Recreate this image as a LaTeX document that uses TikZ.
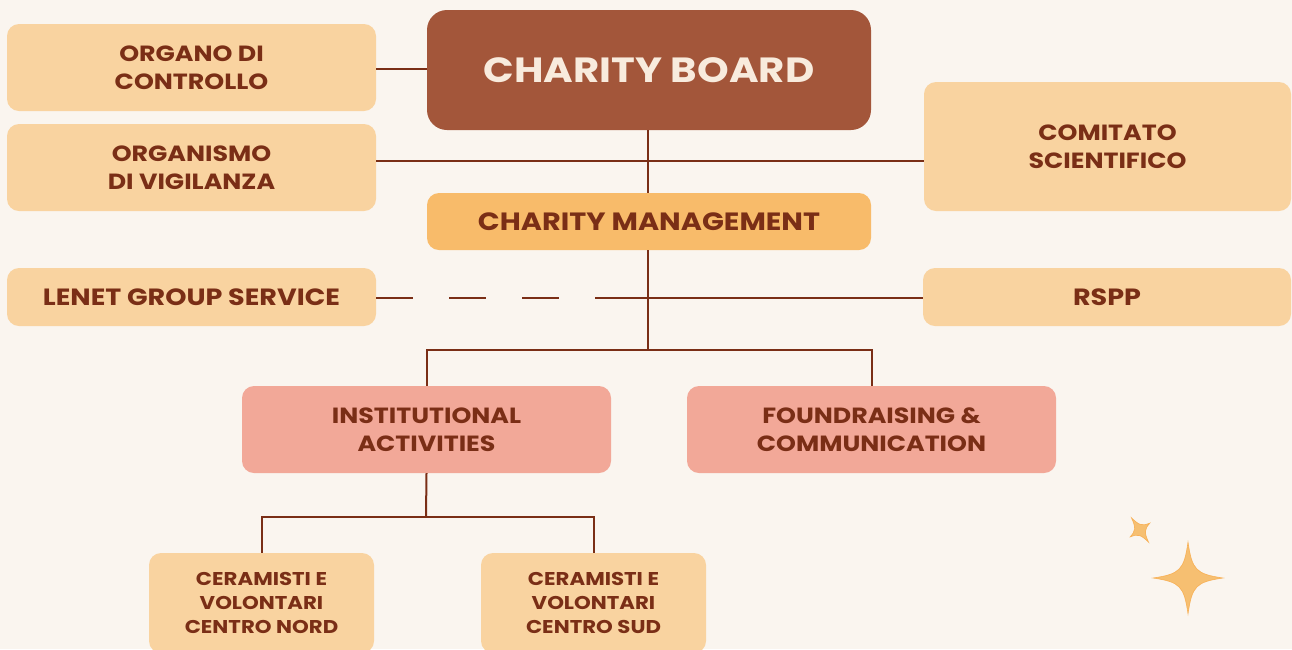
\documentclass[tikz,border=0pt]{standalone}
\usepackage{fontspec}
\setmainfont{Poppins}[FakeStretch=1.15]
\definecolor{bg}{HTML}{FAF5EF}
\definecolor{boardc}{HTML}{A3563A}
\definecolor{lightc}{HTML}{F9D3A0}
\definecolor{mgmtc}{HTML}{F8BB6A}
\definecolor{pinkc}{HTML}{F2A898}
\definecolor{txtc}{HTML}{7A2E16}
\definecolor{linec}{HTML}{7A2E16}
\definecolor{boardtxt}{HTML}{F8EBDD}
\definecolor{sparkc}{HTML}{F6B65C}
\begin{document}
\begin{tikzpicture}[x=1pt,y=-1pt,
  box/.style={rounded corners=12pt, inner sep=0pt, align=center, font=\bfseries\fontsize{22}{28}\selectfont, text=txtc},
  lbox/.style={box, fill=lightc},
  pbox/.style={box, fill=pinkc},
  bigtxt/.style={font=\bfseries\fontsize{23.5}{28}\selectfont},
  sbox/.style={box, fill=lightc, font=\bfseries\fontsize{18.5}{24}\selectfont},
  conn/.style={draw=linec, line width=2pt},
  spark/.style={fill=sparkc, draw=sparkc!80!orange, line width=0.6pt, opacity=0.85}
]
\useasboundingbox (0,0) rectangle (1292,649);
\fill[bg] (0,0) rectangle (1292,649);

\node[box, fill=boardc, text=boardtxt, rounded corners=20pt, minimum width=444pt, minimum height=120pt, font=\bfseries\fontsize{35}{40}\selectfont] (board) at (649,70) {CHARITY BOARD};
\node[lbox, minimum width=369pt, minimum height=87pt] (organo) at (191.5,67.5) {ORGANO DI\\CONTROLLO};
\node[lbox, minimum width=369pt, minimum height=87pt] (vig) at (191.5,167.5) {ORGANISMO\\DI VIGILANZA};
\node[lbox, minimum width=367pt, minimum height=129pt] (comitato) at (1107.5,146.5) {COMITATO\\SCIENTIFICO};
\node[box, fill=mgmtc, minimum width=444pt, minimum height=57pt, font=\bfseries\fontsize{25}{28}\selectfont] (mgmt) at (649,221.5) {CHARITY MANAGEMENT};
\node[lbox, bigtxt, minimum width=369pt, minimum height=58pt] (lenet) at (191.5,297) {LENET GROUP SERVICE};
\node[lbox, bigtxt, minimum width=368pt, minimum height=58pt] (rspp) at (1107,297) {RSPP};
\node[pbox, minimum width=369pt, minimum height=87pt] (inst) at (426.5,429.5) {INSTITUTIONAL\\ACTIVITIES};
\node[pbox, minimum width=369pt, minimum height=87pt] (found) at (871.5,429.5) {FOUNDRAISING \&\\COMMUNICATION};
\node[sbox, minimum width=225pt, minimum height=100pt] (nord) at (261.5,603) {CERAMISTI E\\VOLONTARI\\CENTRO NORD};
\node[sbox, minimum width=225pt, minimum height=100pt] (sud) at (593.5,603) {CERAMISTI E\\VOLONTARI\\CENTRO SUD};

\coordinate (dashend) at (630,298);
\coordinate (j1) at (648,350);
\coordinate (j2) at (426,517);

\draw[conn] (organo.east |- 0,69) -- (board.west |- 0,69);
\draw[conn] (vig.east |- 0,161) -- (comitato.west |- 0,161);
\draw[conn] (board.south -| 648,0) -- (mgmt.north -| 648,0);
\draw[conn, dash pattern=on 37pt off 36pt] (lenet.east |- dashend) -- (dashend);
\draw[conn] (dashend) -- (rspp.west |- dashend);
\draw[conn] (mgmt.south -| j1) -- (j1);
\draw[conn] (inst.north) |- (j1) -| (found.north);
\draw[conn] (inst.south) -- (j2);
\draw[conn] (nord.north) |- (j2) -| (sud.north);

% sparkles
\begin{scope}[shift={(1188,578)}]
\path[spark] (0,-36) .. controls (4,-8) and (8,-4) .. (35,0) .. controls (8,4) and (4,8) .. (0,36) .. controls (-4,8) and (-8,4) .. (-35,0) .. controls (-8,-4) and (-4,-8) .. (0,-36) -- cycle;
\end{scope}
\begin{scope}[shift={(1140,530)}, rotate=35]
\path[spark] (0,-15) .. controls (2,-4) and (4,-2) .. (12,0) .. controls (4,2) and (2,4) .. (0,15) .. controls (-2,4) and (-4,2) .. (-12,0) .. controls (-4,-2) and (-2,-4) .. (0,-15) -- cycle;
\end{scope}
\end{tikzpicture}
\end{document}
